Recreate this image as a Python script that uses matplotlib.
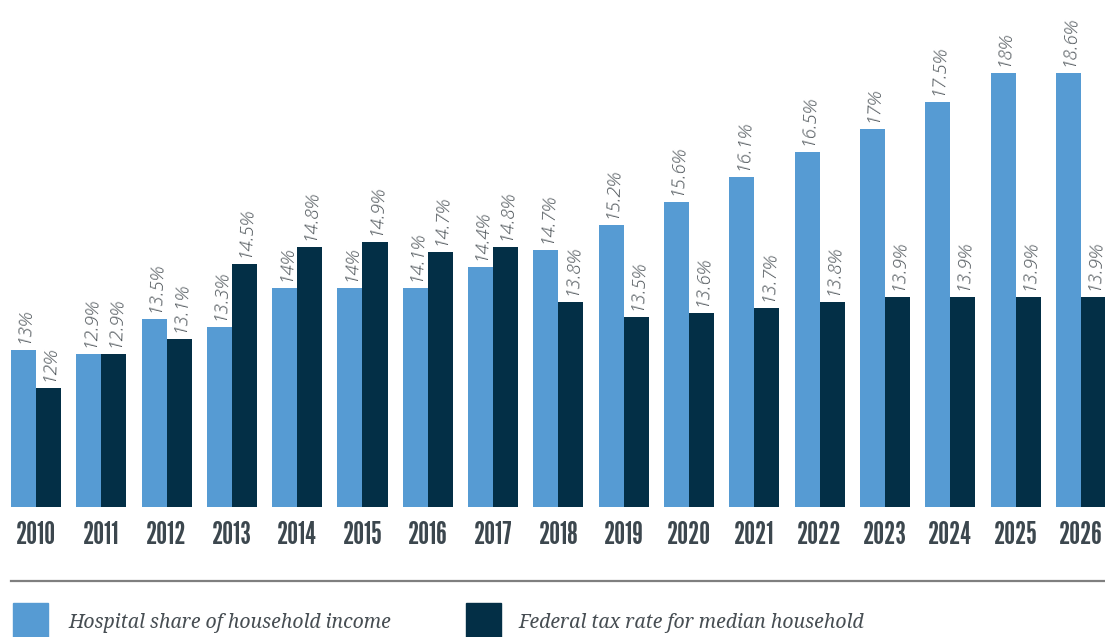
import matplotlib
matplotlib.use("Agg")
import matplotlib.pyplot as plt
from matplotlib.patches import Rectangle
from matplotlib.lines import Line2D
import numpy as np

# data
years = ["2010", "2011", "2012", "2013", "2014", "2015", "2016", "2017", "2018",
         "2019", "2020", "2021", "2022", "2023", "2024", "2025", "2026"]
# values printed on the bars
hospital_share = ["13", "12.9", "13.5", "13.3", "14", "14", "14.1", "14.4", "14.7",
                  "15.2", "15.6", "16.1", "16.5", "17", "17.5", "18", "18.6"]
tax_rate = ["12", "12.9", "13.1", "14.5", "14.8", "14.9", "14.7", "14.8", "13.8",
            "13.5", "13.6", "13.7", "13.8", "13.9", "13.9", "13.9", "13.9"]
# bar heights as drawn in the original (axis starts near 9.6%)
hospital_bar = [12.73, 12.65, 13.35, 13.19, 13.97, 13.97, 13.97, 14.39, 14.73,
                15.23, 15.69, 16.19, 16.69, 17.15, 17.69, 18.27, 18.27]
tax_bar = [11.97, 12.65, 12.95, 14.45, 14.79, 14.89, 14.69, 14.79, 13.69,
           13.39, 13.47, 13.57, 13.69, 13.79, 13.79, 13.79, 13.79]
legend_labels = ["Hospital share of household income", "Federal tax rate for median household"]

LIGHT = "#569bd3"
DARK = "#032f46"
LABEL_GREY = "#4b5257"
YEAR_GREY = "#3c474e"
LEGEND_GREY = "#474e53"

YEAR_FONT = ["League Gothic", "Bebas Neue", "Oswald", "DejaVu Sans"]
LABEL_FONT = ["Open Sans", "DejaVu Sans"]
LEGEND_FONT = ["Noto Serif", "DejaVu Serif"]

fig = plt.figure(figsize=(11.05, 6.37), dpi=100)
ax = fig.add_axes([0, 0.2046, 1, 0.7954])

x = np.arange(len(years))
w = 0.383
b1 = ax.bar(x - w / 2, hospital_bar, w, color=LIGHT)
b2 = ax.bar(x + w / 2, tax_bar, w, color=DARK)

ax.set_xlim(-0.551, 16.37)
ax.set_ylim(9.6, 19.73)

for bars, labels in ((b1, hospital_share), (b2, tax_rate)):
    for rect, lab in zip(bars, labels):
        ax.annotate(lab + "%", (rect.get_x() + rect.get_width() / 2, rect.get_height()),
                    xytext=(1, 5), textcoords="offset points", rotation=88,
                    ha="center", va="bottom", fontsize=13.5, style="italic",
                    fontweight=300, family=LABEL_FONT, color=LABEL_GREY)

ax.set_xticks(x, years)
ax.tick_params(axis="x", length=0, pad=10)
for t in ax.get_xticklabels():
    t.set_fontfamily(YEAR_FONT)
    t.set_fontweight("bold")
    t.set_fontsize(22)
    t.set_color(YEAR_GREY)
ax.set_yticks([])
for s in ax.spines.values():
    s.set_visible(False)

fig.add_artist(Line2D([11 / 1105, 1], [0.0884, 0.0884], color="#7f7f7f", lw=1.6))

# legend
for (sx, tx), col, lab in zip(((13, 68), (466, 518)), (LIGHT, DARK), legend_labels):
    fig.add_artist(Rectangle((sx / 1105, 0), 35 / 1105, 34 / 637, color=col,
                             transform=fig.transFigure))
    fig.text(tx / 1105, 9 / 637, lab, ha="left", va="baseline", fontsize=14,
             style="italic", family=LEGEND_FONT, color=LEGEND_GREY)

fig.savefig("out.png", dpi=100)
